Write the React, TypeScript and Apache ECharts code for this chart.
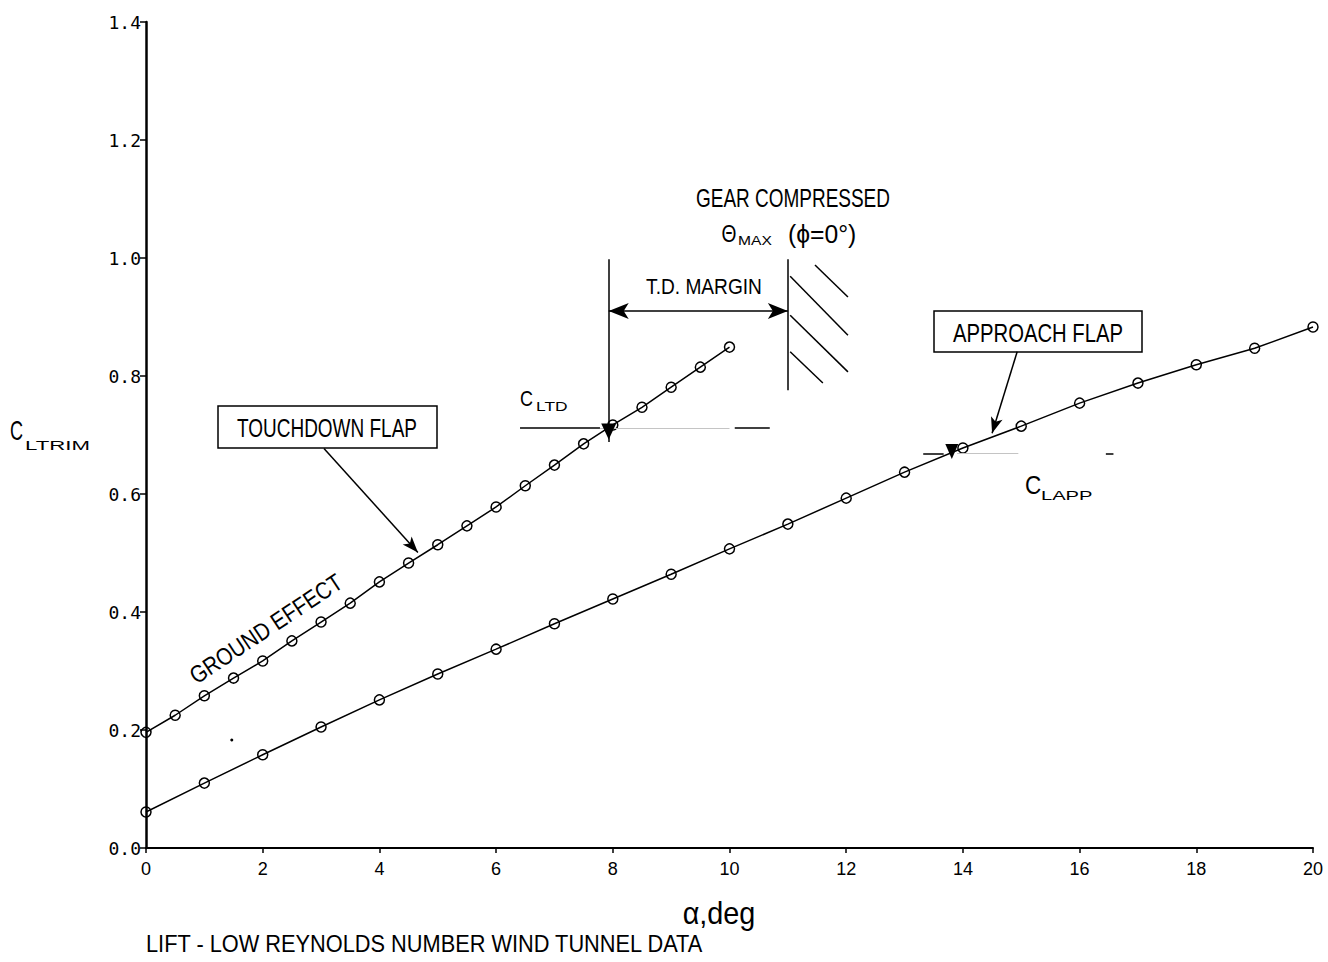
import React, { useEffect, useRef } from "react";
import * as echarts from "echarts";

// ---- data ----
const alphaTouchdown = [0, 0.5, 1, 1.5, 2, 2.5, 3, 3.5, 4, 4.5, 5, 5.5, 6, 6.5, 7, 7.5, 8, 8.5, 9, 9.5, 10];
const clTouchdown = [0.196, 0.225, 0.258, 0.288, 0.317, 0.351, 0.383, 0.415, 0.451, 0.483, 0.514, 0.546, 0.578, 0.614, 0.649, 0.685, 0.717, 0.747, 0.781, 0.815, 0.849];
const alphaApproach = [0, 1, 2, 3, 4, 5, 6, 7, 8, 9, 10, 11, 12, 13, 14, 15, 16, 17, 18, 19, 20];
const clApproach = [0.061, 0.11, 0.158, 0.205, 0.251, 0.295, 0.337, 0.38, 0.422, 0.464, 0.507, 0.549, 0.593, 0.637, 0.678, 0.715, 0.754, 0.788, 0.819, 0.847, 0.883];
const yTickLabels = ["0.0", "0.2", "0.4", "0.6", "0.8", "1.0", "1.2", "1.4"];

// annotation values (data units)
const clTD = 0.712;
const alphaTD = 7.93;
const alphaGear = 11.0;
const clApp = 0.669;
const alphaApp = 13.81;

const FONT = '"Liberation Sans", Arial, sans-serif';
const MONO = '"DejaVu Sans Mono", "Liberation Mono", monospace';

export default function App() {
  const ref = useRef<HTMLDivElement>(null);
  useEffect(() => {
    const chart = echarts.init(ref.current!, null, { renderer: "svg" });
    const black = "#000";
    const seg = (a: number[], b: number[], opt: any = {}) => {
      const s = opt.symbol || ["none", "none"];
      const size = opt.symbolSize || 10;
      const start: any = { coord: a, symbol: s[0], symbolSize: size };
      if (opt.lineStyle) start.lineStyle = opt.lineStyle;
      return [start, { coord: b, symbol: s[1], symbolSize: size }];
    };
    const txt = (text: string, x: number, y: number, size: number, scaleX = 1, align = "center", rotation = 0) => ({
      type: "text",
      x,
      y,
      scaleX,
      rotation,
      style: { text, font: `${size}px ${FONT}`, fill: black, align, verticalAlign: "middle" },
    });
    const lineW = 1.5;
    const gray = { color: "#c4c4c4", width: 1, type: "solid" };
    chart.setOption({
      animation: false,
      backgroundColor: "#fff",
      grid: { left: 146, top: 22, width: 1167, height: 826, containLabel: false },
      xAxis: {
        type: "value",
        min: 0,
        max: 20,
        interval: 2,
        splitLine: { show: false },
        axisLine: { onZero: false, lineStyle: { color: black, width: 2 } },
        axisTick: { show: true, inside: false, length: 5, lineStyle: { color: black, width: 1.5 } },
        axisLabel: { color: black, fontFamily: FONT, fontSize: 18, margin: 12 },
      },
      yAxis: {
        type: "value",
        min: 0,
        max: 1.4,
        interval: 0.2,
        splitLine: { show: false },
        axisLine: { onZero: false, lineStyle: { color: black, width: 2.5 } },
        axisTick: { show: true, inside: false, length: 6, lineStyle: { color: black, width: 1.5 } },
        axisLabel: {
          color: black,
          fontFamily: MONO,
          fontSize: 18,
          margin: 5,
          formatter: (v: number) => yTickLabels[Math.round(v / 0.2)] ?? "",
        },
      },
      series: [
        {
          name: "Touchdown flap",
          type: "line",
          data: alphaTouchdown.map((a, i) => [a, clTouchdown[i]]),
          symbol: "circle",
          symbolSize: 10,
          lineStyle: { color: black, width: lineW },
          itemStyle: { color: "rgba(0,0,0,0)", borderColor: black, borderWidth: 1.5 },
          markLine: {
            silent: true,
            animation: false,
            label: { show: false },
            symbol: ["none", "none"],
            lineStyle: { color: black, width: 1.5, type: "solid" },
            data: [
              // C_LTD reference line
              seg([6.41, clTD], [7.78, clTD]),
              seg([7.78, clTD], [10.0, clTD], { lineStyle: gray }),
              seg([10.09, clTD], [10.69, clTD]),
              // vertical at touchdown alpha
              seg([alphaTD, 0.998], [alphaTD, 0.688]),
              // gear compressed line
              seg([alphaGear, 0.998], [alphaGear, 0.776]),
              // hatching
              seg([11.465, 0.988], [12.03, 0.934]),
              seg([11.04, 0.969], [12.03, 0.869]),
              seg([11.04, 0.903], [12.03, 0.807]),
              seg([11.04, 0.841], [11.6, 0.788]),
              // T.D. margin double arrow
              seg([alphaTD, 0.91], [alphaGear, 0.91], { symbol: ["arrow", "arrow"], symbolSize: [12, 20] }),
              // touchdown flap leader
              seg([3.05, 0.677], [4.66, 0.501], { symbol: ["none", "arrow"], symbolSize: [9, 16] }),
              // approach flap leader
              seg([14.93, 0.841], [14.5, 0.703], { symbol: ["none", "arrow"], symbolSize: [9, 16] }),
              // C_LAPP reference line
              seg([13.32, clApp], [13.67, clApp]),
              seg([13.9, clApp], [14.95, clApp], { lineStyle: gray }),
              seg([16.45, clApp], [16.58, clApp]),
            ],
          },
          markPoint: {
            silent: true,
            animation: false,
            label: { show: false },
            itemStyle: { color: black },
            data: [
              { coord: [alphaTD, 0.706], symbol: "triangle", symbolSize: [15, 16], symbolRotate: 180 },
              { coord: [alphaApp, 0.672], symbol: "triangle", symbolSize: [13, 15], symbolRotate: 180 },
              { coord: [1.47, 0.183], symbol: "circle", symbolSize: 3 },
            ],
          },
        },
        {
          name: "Approach flap",
          type: "line",
          data: alphaApproach.map((a, i) => [a, clApproach[i]]),
          symbol: "circle",
          symbolSize: 10,
          lineStyle: { color: black, width: lineW },
          itemStyle: { color: "rgba(0,0,0,0)", borderColor: black, borderWidth: 1.5 },
        },
      ],
      graphic: [
        // y axis title C_LTRIM
        txt("C", 10, 431, 27, 0.67, "left"),
        txt("LTRIM", 25, 446, 12, 1.85, "left"),
        // x axis title
        txt("α,deg", 719, 913, 31, 0.93),
        // caption
        txt("LIFT - LOW REYNOLDS NUMBER WIND TUNNEL DATA", 146, 944, 24, 0.907, "left"),
        // touchdown flap box
        { type: "rect", shape: { x: 218, y: 406, width: 219, height: 42 }, style: { fill: "#fff", stroke: black, lineWidth: 1.5 } },
        txt("TOUCHDOWN FLAP", 327, 428, 26, 0.73),
        // approach flap box
        { type: "rect", shape: { x: 934, y: 311, width: 208, height: 41 }, style: { fill: "#fff", stroke: black, lineWidth: 1.5 } },
        txt("APPROACH FLAP", 1038, 333, 26, 0.78),
        // ground effect
        txt("GROUND EFFECT", 266, 629, 24, 0.86, "center", 0.585),
        // gear compressed
        txt("GEAR COMPRESSED", 793, 198, 26, 0.73),
        txt("Θ", 729, 234, 24, 0.8),
        txt("MAX", 738, 241, 12, 1.3, "left"),
        txt("(ϕ=0°)", 788, 234, 26, 0.95, "left"),
        // T.D. margin
        txt("T.D. MARGIN", 704, 286, 22, 0.87),
        // C_LTD
        txt("C", 520, 398, 22, 0.82, "left"),
        txt("LTD", 536, 407, 12, 1.45, "left"),
        // C_LAPP
        txt("C", 1025, 485, 25, 0.9, "left"),
        txt("LAPP", 1041, 496, 13, 1.55, "left"),
      ],
    });
    return () => chart.dispose();
  }, []);
  return <div ref={ref} style={{ position: "absolute", left: 0, top: 0, width: 1328, height: 962 }} />;
}
